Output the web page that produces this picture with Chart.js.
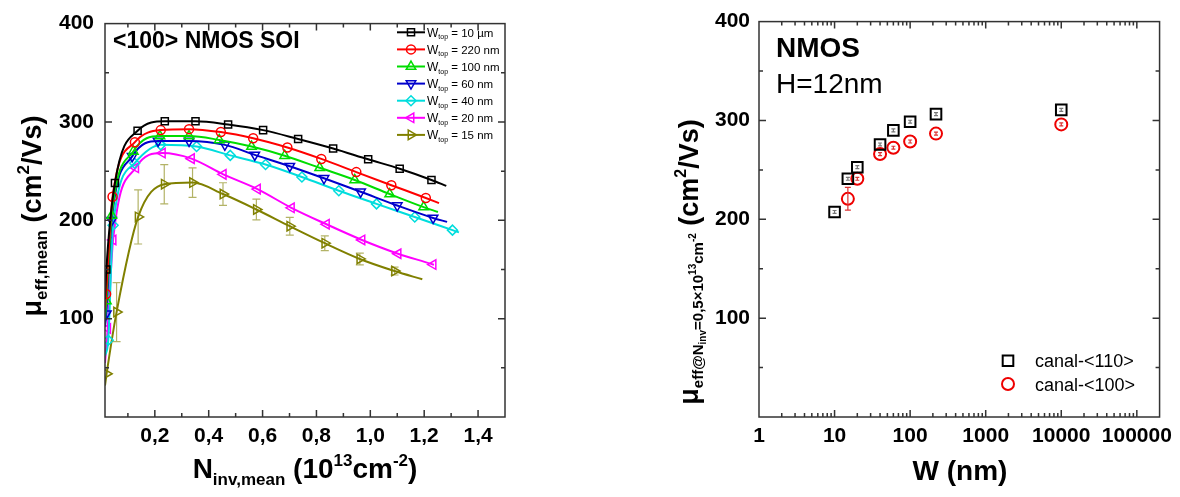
<!DOCTYPE html>
<html>
<head>
<meta charset="utf-8">
<script src="https://cdn.jsdelivr.net/npm/chart.js"></script>
<style>
  html, body { margin: 0; padding: 0; background: #fff; }
  #wrap { position: relative; width: 1180px; height: 497px; }
  canvas { position: absolute; top: 0; }
</style>
</head>
<body>
<div id="wrap">
  <canvas id="left" width="590" height="497" style="left:0"></canvas>
  <canvas id="right" width="590" height="497" style="left:590px"></canvas>
</div>
<script>
const FONT = '"Liberation Sans", Arial, sans-serif';

// left panel: mobility vs Ninv, one curve per top width
// first and last point of every curve are fit-line ends (no marker)
const wTop = ['10 µm', '220 nm', '100 nm', '60 nm', '40 nm', '20 nm', '15 nm'];

const n10um  = [0.015, 0.020, 0.052, 0.136, 0.237, 0.351, 0.472, 0.602, 0.732, 0.862, 0.992, 1.109, 1.227, 1.282];
const mu10um = [120, 150, 238, 291, 300.7, 300.7, 297.4, 291.7, 282.7, 273, 262, 252.4, 241, 235];

const n220  = [0.015, 0.019, 0.043, 0.126, 0.222, 0.327, 0.445, 0.565, 0.692, 0.818, 0.948, 1.078, 1.206, 1.255];
const mu220 = [110, 125, 224, 279.4, 291.7, 292.7, 289.7, 283.4, 274, 262.4, 249, 235.7, 222.7, 217.5];

const n100  = [0.015, 0.020, 0.040, 0.120, 0.219, 0.327, 0.439, 0.559, 0.682, 0.812, 0.942, 1.072, 1.198, 1.251];
const mu100 = [100, 118, 205, 270, 285.7, 285.7, 281.7, 275, 265.7, 253.4, 241, 226.7, 213.4, 208.4];

const n60  = [0.015, 0.020, 0.040, 0.116, 0.212, 0.327, 0.460, 0.571, 0.701, 0.828, 0.964, 1.100, 1.233, 1.285];
const mu60 = [92, 105, 200, 265, 280.7, 280.7, 276.7, 266.5, 255, 242.7, 229, 215, 202.4, 198.4];

const n40  = [0.015, 0.027, 0.045, 0.125, 0.222, 0.355, 0.480, 0.611, 0.746, 0.883, 1.023, 1.165, 1.305, 1.329];
const mu40 = [62, 78, 195, 258, 276.7, 275, 266, 256.7, 244, 230, 216.7, 203.4, 190, 187.7];

const n20  = [0.015, 0.025, 0.045, 0.129, 0.228, 0.336, 0.454, 0.581, 0.707, 0.837, 0.969, 1.103, 1.233, 1.236];
const mu20 = [55, 90, 180, 253.4, 268.4, 262.7, 246.7, 231.7, 212.7, 196, 180, 166, 155, 154.7];

const n15   = [0.015, 0.021, 0.058, 0.138, 0.235, 0.340, 0.453, 0.577, 0.701, 0.831, 0.961, 1.090, 1.193];
const mu15  = [32, 44, 106.7, 203.4, 236.7, 238.4, 226.7, 211, 194, 176.7, 160.7, 148.4, 140];
const err15 = [0, 0, 30, 27.5, 20, 15, 11.5, 10.5, 9, 7.5, 6, 4, 0];

const nTicks  = [0.2, 0.4, 0.6, 0.8, 1.0, 1.2, 1.4];
const muTicks = [100, 200, 300, 400];

// right panel: mobility at Ninv = 0.5e13 vs width
const canal = ['canal-<110>', 'canal-<100>'];
const w110   = [10, 15, 20, 40, 60, 100, 220, 10000];
const mu110  = [207.4, 241, 252.7, 275.7, 290, 298.7, 306.4, 310.7];
const err110 = [1.5, 1.5, 1.5, 1.5, 1.5, 1.5, 1.5, 1.5];
const w100   = [15, 20, 40, 60, 100, 220, 10000];
const mu100w = [220.7, 241, 266, 272.4, 278.7, 286.7, 296];
const err100 = [11.5, 1.5, 1.5, 1.5, 1.5, 1.5, 1.5];
const wTicks = [1, 10, 100, 1000, 10000, 100000];

// styles
const colors  = ['#000000', '#ff0000', '#00dd00', '#0000cc', '#00dddd', '#ff00ff', '#808000'];
const markers = ['rect', 'circle', 'triangle', 'triangle', 'rectRot', 'triangle', 'triangle'];
const rots    = [0, 0, 0, 180, 0, 270, 90];
const radii   = [5, 4.5, 5.5, 5.5, 5, 5.5, 5.5];

const curves = [[n10um, mu10um], [n220, mu220], [n100, mu100], [n60, mu60], [n40, mu40], [n20, mu20], [n15, mu15]];
const curveErr = [null, null, null, null, null, null, err15];

function pts(xs, ys) { return xs.map((x, i) => ({x: x, y: ys[i]})); }

function rich(ctx, parts, x, y, rot) {
  ctx.save();
  ctx.translate(x, y);
  if (rot) ctx.rotate(rot);
  ctx.textAlign = 'left';
  ctx.textBaseline = 'alphabetic';
  ctx.fillStyle = '#000';
  let w = 0;
  parts.forEach(p => { ctx.font = (p[3] ? 'bold ' : '') + p[1] + 'px ' + FONT; w += ctx.measureText(p[0]).width; });
  let cx = -w / 2;
  parts.forEach(p => {
    ctx.font = (p[3] ? 'bold ' : '') + p[1] + 'px ' + FONT;
    ctx.fillText(p[0], cx, p[2]);
    cx += ctx.measureText(p[0]).width;
  });
  ctx.restore();
}

function frame(chart, xMaj, xMin, yMaj, yMin) {
  const ctx = chart.ctx, a = chart.chartArea, sx = chart.scales.x, sy = chart.scales.y;
  ctx.save();
  ctx.strokeStyle = '#333';
  ctx.lineWidth = 1.5;
  ctx.strokeRect(a.left, a.top, a.right - a.left, a.bottom - a.top);
  ctx.beginPath();
  const tx = (vals, len) => vals.forEach(v => {
    const p = sx.getPixelForValue(v);
    if (p < a.left + 1 || p > a.right - 1) return;
    ctx.moveTo(p, a.bottom); ctx.lineTo(p, a.bottom - len);
    ctx.moveTo(p, a.top); ctx.lineTo(p, a.top + len);
  });
  const ty = (vals, len) => vals.forEach(v => {
    const p = sy.getPixelForValue(v);
    if (p < a.top + 1 || p > a.bottom - 1) return;
    ctx.moveTo(a.left, p); ctx.lineTo(a.left + len, p);
    ctx.moveTo(a.right, p); ctx.lineTo(a.right - len, p);
  });
  tx(xMaj, 7); tx(xMin, 4); ty(yMaj, 7); ty(yMin, 4);
  ctx.stroke();
  ctx.restore();
}

function errorBars(chart, cap) {
  const ctx = chart.ctx, sx = chart.scales.x, sy = chart.scales.y;
  chart.data.datasets.forEach(ds => {
    if (!ds.errs) return;
    ctx.save();
    ctx.strokeStyle = ds.errColor;
    ctx.lineWidth = 1.2;
    ctx.beginPath();
    ds.data.forEach((p, i) => {
      const e = ds.errs[i];
      if (!e) return;
      const c = e < 3 ? 2 : cap;
      const x = sx.getPixelForValue(p.x);
      const y1 = sy.getPixelForValue(p.y - e), y2 = sy.getPixelForValue(p.y + e);
      ctx.moveTo(x, y1); ctx.lineTo(x, y2);
      ctx.moveTo(x - c, y1); ctx.lineTo(x + c, y1);
      ctx.moveTo(x - c, y2); ctx.lineTo(x + c, y2);
    });
    ctx.stroke();
    ctx.restore();
  });
}

function marker(ctx, style, rot, r, color, bw, x, y) {
  ctx.save();
  ctx.strokeStyle = color;
  ctx.fillStyle = 'rgba(0,0,0,0)';
  ctx.lineWidth = bw;
  Chart.helpers.drawPoint(ctx, {pointStyle: style, rotation: rot, radius: r, borderWidth: bw}, x, y);
  ctx.restore();
}

const yMinor = [50, 150, 250, 350];

const leftDeco = {
  id: 'leftDeco',
  afterDatasetsDraw(chart) {
    const ctx = chart.ctx;
    errorBars(chart, 4);
    const nMinor = [];
    for (let v = 0.1; v < 1.55; v += 0.2) nMinor.push(+v.toFixed(1));
    frame(chart, nTicks, nMinor, muTicks, yMinor);

    ctx.save();
    ctx.font = 'bold 23px ' + FONT;
    ctx.fillStyle = '#000';
    ctx.fillText('<100> NMOS SOI', 113, 48);
    ctx.restore();

    // legend
    wTop.forEach((lab, i) => {
      const y = 32.3 + i * 17.1;
      ctx.save();
      ctx.strokeStyle = colors[i];
      ctx.lineWidth = 2;
      ctx.beginPath(); ctx.moveTo(397, y); ctx.lineTo(425, y); ctx.stroke();
      ctx.restore();
      marker(ctx, markers[i], rots[i], radii[i], colors[i], 1.5, 411, y);
      ctx.save();
      ctx.fillStyle = '#000';
      ctx.font = '12px ' + FONT;
      ctx.fillText('W', 427, y + 4.5);
      let x = 427 + ctx.measureText('W').width;
      ctx.font = '7px ' + FONT;
      ctx.fillText('top', x, y + 7);
      x += ctx.measureText('top').width;
      ctx.font = '11.5px ' + FONT;
      ctx.fillText(' = ' + lab, x, y + 4.5);
      ctx.restore();
    });

    rich(ctx, [['μ', 27, 0, 1], ['eff,mean', 17, 6, 1], [' (cm', 27, 0, 1], ['2', 17, -12, 1], ['/Vs)', 27, 0, 1]],
      41, 216, -Math.PI / 2);
    rich(ctx, [['N', 28, 0, 1], ['inv,mean', 17, 7, 1], [' (10', 28, 0, 1], ['13', 17, -12, 1], ['cm', 28, 0, 1], ['-2', 17, -12, 1], [')', 28, 0, 1]],
      305, 478, 0);
  }
};

const tickFont = {family: FONT, size: 21, weight: 'bold'};

new Chart(document.getElementById('left'), {
  type: 'scatter',
  data: {
    datasets: curves.map((c, i) => ({
      label: wTop[i],
      data: pts(c[0], c[1]),
      showLine: true,
      borderColor: colors[i],
      borderWidth: 2,
      cubicInterpolationMode: 'monotone',
      pointStyle: markers[i],
      rotation: rots[i],
      pointRadius: ctx => (ctx.dataIndex === 0 || ctx.dataIndex === ctx.dataset.data.length - 1) ? 0 : radii[i],
      pointBorderWidth: 1.5,
      pointBorderColor: colors[i],
      pointBackgroundColor: 'rgba(0,0,0,0)',
      errs: curveErr[i],
      errColor: 'rgba(128,128,0,0.6)'
    }))
  },
  options: {
    responsive: false,
    animation: false,
    devicePixelRatio: 1,
    layout: {padding: {top: 16, right: 85, left: 0, bottom: 0}},
    plugins: {legend: {display: false}, tooltip: {enabled: false}},
    scales: {
      x: {
        type: 'linear', min: 0.015, max: 1.5,
        grid: {display: false, drawTicks: false},
        border: {display: false},
        afterBuildTicks: s => { s.ticks = nTicks.map(v => ({value: v})); },
        afterFit: s => { s.height = 80; },
        ticks: {padding: 7, color: '#000', font: tickFont, maxRotation: 0, autoSkip: false,
          callback: v => v.toFixed(1).replace('.', ',')}
      },
      y: {
        min: 0, max: 400,
        grid: {display: false, drawTicks: false},
        border: {display: false},
        afterBuildTicks: s => { s.ticks = muTicks.map(v => ({value: v})); },
        afterFit: s => { s.width = 105; },
        ticks: {padding: 11, color: '#000', font: tickFont, callback: v => String(v)}
      }
    }
  },
  plugins: [leftDeco]
});

const rightDeco = {
  id: 'rightDeco',
  afterDatasetsDraw(chart) {
    const ctx = chart.ctx;
    errorBars(chart, 3);
    const wMinor = [];
    for (let d = 1; d <= 100000; d *= 10) for (let k = 2; k <= 9; k++) wMinor.push(d * k);
    frame(chart, wTicks, wMinor, muTicks, yMinor);

    ctx.save();
    ctx.fillStyle = '#000';
    ctx.font = 'bold 28px ' + FONT;
    ctx.fillText('NMOS', 186, 57);
    ctx.font = '28px ' + FONT;
    ctx.fillText('H=12nm', 186, 93);
    ctx.restore();

    // legend
    marker(ctx, 'rect', 0, 7.5, '#000', 2, 418, 360.7);
    marker(ctx, 'circle', 0, 6, '#ee0000', 2, 418, 384);
    ctx.save();
    ctx.fillStyle = '#000';
    ctx.font = '18px ' + FONT;
    ctx.fillText(canal[0], 445, 367);
    ctx.fillText(canal[1], 445, 390.5);
    ctx.restore();

    rich(ctx, [['μ', 27, 0, 1], ['eff@N', 15, 5, 1], ['inv', 10, 8, 1], ['=0,5×10', 15, 5, 1], ['13', 10, -2, 1],
      ['cm', 15, 5, 1], ['-2', 10, -2, 1], [' (cm', 27, 0, 1], ['2', 16, -12, 1], ['/Vs)', 27, 0, 1]],
      108, 262, -Math.PI / 2);

    ctx.save();
    ctx.fillStyle = '#000';
    ctx.font = 'bold 28px ' + FONT;
    ctx.textAlign = 'center';
    ctx.fillText('W (nm)', 370, 480);
    ctx.restore();
  }
};

new Chart(document.getElementById('right'), {
  type: 'scatter',
  data: {
    datasets: [
      {label: canal[0], data: pts(w110, mu110), errs: err110, errColor: '#777',
        pointStyle: 'rect', pointRadius: 7.5, pointBorderWidth: 2, pointBorderColor: '#000', pointBackgroundColor: 'rgba(0,0,0,0)'},
      {label: canal[1], data: pts(w100, mu100w), errs: err100, errColor: '#dd3333',
        pointStyle: 'circle', pointRadius: 6, pointBorderWidth: 2, pointBorderColor: '#ee0000', pointBackgroundColor: 'rgba(0,0,0,0)'}
    ]
  },
  options: {
    responsive: false,
    animation: false,
    devicePixelRatio: 1,
    layout: {padding: {top: 16, right: 20, left: 0, bottom: 0}},
    plugins: {legend: {display: false}, tooltip: {enabled: false}},
    scales: {
      x: {
        type: 'logarithmic', min: 1, max: 200000,
        grid: {display: false, drawTicks: false},
        border: {display: false},
        afterBuildTicks: s => { s.ticks = wTicks.map(v => ({value: v})); },
        afterFit: s => { s.height = 80; },
        ticks: {padding: 7, color: '#000', font: tickFont, maxRotation: 0, autoSkip: false, callback: v => String(v)}
      },
      y: {
        min: 0, max: 400,
        grid: {display: false, drawTicks: false},
        border: {display: false},
        afterBuildTicks: s => { s.ticks = muTicks.map(v => ({value: v})); },
        afterFit: s => { s.width = 169; },
        ticks: {padding: 9, color: '#000', font: tickFont, callback: v => String(v)}
      }
    }
  },
  plugins: [rightDeco]
});
</script>
</body>
</html>
